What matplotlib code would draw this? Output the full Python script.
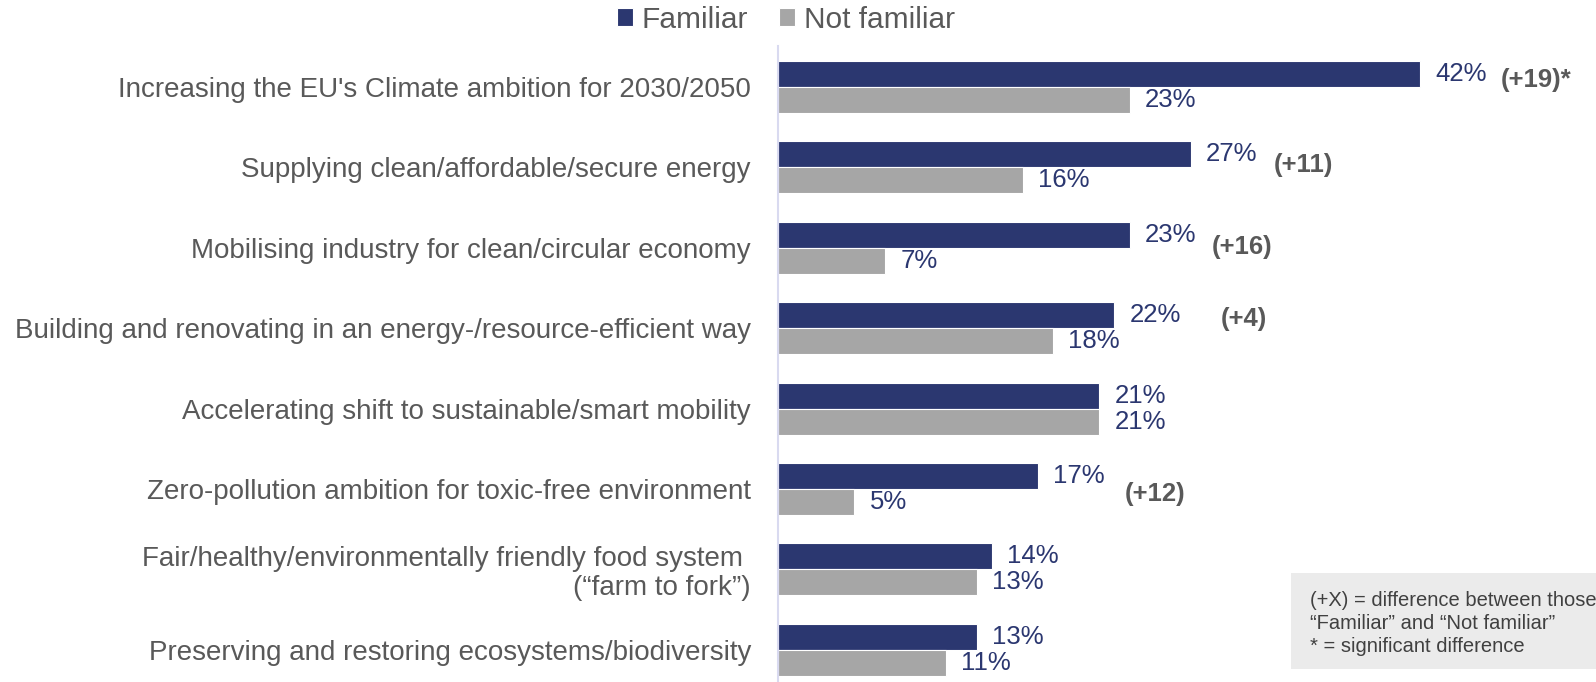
import numpy as np
import matplotlib
matplotlib.use("Agg")
import matplotlib.pyplot as plt
from matplotlib.patches import Rectangle

# data
categories = [
    "Increasing the EU's Climate ambition for 2030/2050",
    "Supplying clean/affordable/secure energy",
    "Mobilising industry for clean/circular economy",
    "Building and renovating in an energy-/resource-efficient way",
    "Accelerating shift to sustainable/smart mobility",
    "Zero-pollution ambition for toxic-free environment",
    "Fair/healthy/environmentally friendly food system \n(\u201cfarm to fork\u201d)",
    "Preserving and restoring ecosystems/biodiversity",
]
familiar = [42, 27, 23, 22, 21, 17, 14, 13]
not_familiar = [23, 16, 7, 18, 21, 5, 13, 11]
diff_labels = ["(+19)*", "(+11)", "(+16)", "(+4)", "", "(+12)", "", ""]

# where each difference label sits, relative to the end of the Familiar bar
diff_dx = [5.3, 5.43, 5.37, 6.96, 0, 5.7, 0, 0]
diff_dy = [-0.09, -0.03, -0.015, -0.12, 0, 0.06, 0, 0]

navy = "#2B3770"
grey = "#A6A6A6"
text_grey = "#595959"

plt.rcParams['font.family'] = ['Liberation Sans', 'DejaVu Sans']

fig = plt.figure(figsize=(15.96, 6.82), dpi=100)
# axes placed so the left spine sits where the reference has it
ax = fig.add_axes([778 / 1596, 0, 1 - 778 / 1596, 636 / 682])

y = np.arange(len(categories))
h = 0.324
b1 = ax.barh(y - h / 2, familiar, height=h, color=navy, edgecolor="white", linewidth=0.8, label="Familiar")
b2 = ax.barh(y + h / 2, not_familiar, height=h, color=grey, edgecolor="white", linewidth=0.8, label="Not familiar")

for i in range(len(categories)):
    ax.annotate(f"{familiar[i]}%", (familiar[i], y[i] - h / 2), xytext=(11, 0),
                textcoords="offset points", va="center", ha="left", fontsize=18.5, color=navy)
    ax.annotate(f"{not_familiar[i]}%", (not_familiar[i], y[i] + h / 2), xytext=(11, 0),
                textcoords="offset points", va="center", ha="left", fontsize=18.5, color=navy)
    if diff_labels[i]:
        ax.text(familiar[i] + diff_dx[i], y[i] + diff_dy[i], diff_labels[i], va="center", ha="left",
                fontsize=18.5, color=text_grey, fontweight="bold")

ax.set_xlim(0, (1596 - 778) / 15.29)
ax.set_ylim(7.40, -0.51)
ax.set_yticks(y)
ax.set_yticklabels(categories, fontsize=20, color=text_grey, linespacing=1.15)
ax.tick_params(axis="y", length=0, pad=19.5)
ax.set_xticks([])
for s in ["top", "right", "bottom"]:
    ax.spines[s].set_visible(False)
ax.spines["left"].set_color("#D9DAF0")
ax.spines["left"].set_linewidth(1.5)

fig.legend(handles=[b1, b2], loc="center", bbox_to_anchor=(786 / 1596, 1 - 20 / 682), ncol=2,
           frameon=False, fontsize=21.5, handlelength=0.55, handleheight=0.55, handletextpad=0.3,
           columnspacing=1.03, labelcolor=text_grey)

# note box in the lower right corner
fig.patches.append(Rectangle((1291 / 1596, 1 - 669 / 682), 1 - 1291 / 1596, 96 / 682,
                             transform=fig.transFigure, facecolor="#EBEBEB", edgecolor="none", zorder=0))
note = ["(+X) = difference between those", "\u201cFamiliar\u201d and \u201cNot familiar\u201d",
        "* = significant difference"]
for k, line in enumerate(note):
    fig.text(1310 / 1596, 1 - (600 + 23.5 * k) / 682, line, fontsize=14.5, color="#404040",
             va="center", ha="left")

fig.savefig("out.png", dpi=100)
